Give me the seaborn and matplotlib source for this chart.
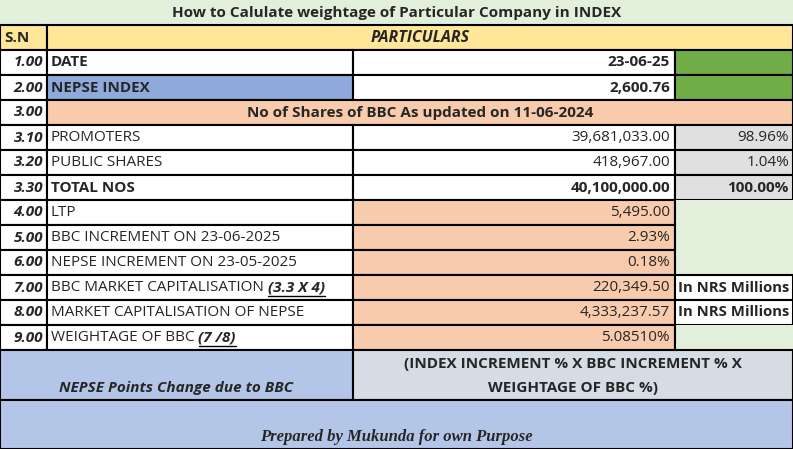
import matplotlib.pyplot as plt
import seaborn as sns
from matplotlib.patches import Rectangle

sns.set_style("white")
plt.rcParams['font.family'] = ['Open Sans', 'DejaVu Sans']

title = "How to Calulate weightage of Particular Company in INDEX"
sn = ["1.00", "2.00", "3.00", "3.10", "3.20", "3.30", "4.00", "5.00", "6.00", "7.00", "8.00", "9.00"]
labels = ["DATE", "NEPSE INDEX", "No of Shares of BBC As updated on 11-06-2024", "PROMOTERS",
          "PUBLIC SHARES", "TOTAL NOS", "LTP", "BBC INCREMENT ON 23-06-2025",
          "NEPSE INCREMENT ON 23-05-2025", "BBC MARKET CAPITALISATION ", "MARKET CAPITALISATION OF NEPSE",
          "WEIGHTAGE OF BBC "]
label_extra = ["", "", "", "", "", "", "", "", "", "(3.3 X 4)", "", "(7 /8)"]
values = ["23-06-25", "2,600.76", "", "39,681,033.00", "418,967.00", "40,100,000.00", "5,495.00",
          "2.93%", "0.18%", "220,349.50", "4,333,237.57", "5.08510%"]
extras = ["", "", "", "98.96%", "1.04%", "100.00%", "", "", "", "In NRS Millions", "In NRS Millions", ""]

WHITE, GREEN, BLUE, SALMON, GRAY, LGREEN, YELLOW, LBLUE, BGRAY = (
    "white", "#70ad47", "#8eaadb", "#f8cbad", "#e0e0e0", "#e2efda", "#ffe699", "#b4c6e7", "#d6dce4")
label_col = [WHITE, BLUE, SALMON] + [WHITE] * 9
value_col = [WHITE, WHITE, SALMON, WHITE, WHITE, WHITE] + [SALMON] * 6
extra_col = [GREEN, GREEN, SALMON, GRAY, GRAY, GRAY, LGREEN, LGREEN, LGREEN, WHITE, WHITE, LGREEN]
bold_lbl = [True, True, True, False, False, True, False, False, False, False, False, False]
bold_val = [True, True, True, False, False, True] + [False] * 6

W, H = 793, 449
fig = plt.figure(figsize=(W / 100, H / 100), dpi=100)
ax = fig.add_axes([0, 0, 1, 1])
ax.set_xlim(0, W)
ax.set_ylim(H, 0)
ax.axis("off")

x0, x1, x2, x3 = 0, 47, 353, 675
rh = 25
fs = 11


def cell(x, y, w, h, color, lw=1.5, edge="black"):
    ax.add_patch(Rectangle((x, y), w, h, facecolor=color, edgecolor=edge, linewidth=lw))


# title
ax.add_patch(Rectangle((0, 0), W, rh, facecolor=LGREEN, edgecolor="none"))
ax.text(W / 2 - 0, rh / 2 + 1, title, ha="center", va="center", fontsize=fs, fontweight="bold")
# header
cell(x0, rh, x1, rh, YELLOW)
cell(x1, rh, W - x1, rh, YELLOW)
ax.text(4, rh * 1.5, "S.N", ha="left", va="center", fontsize=fs, fontweight="bold")
ax.text((x1 + W) / 2, rh * 1.5, "PARTICULARS", ha="center", va="center", fontsize=fs + 0.5,
        fontweight="bold", style="italic")

for i in range(len(sn)):
    y = rh * (i + 2)
    yc = y + rh / 2
    cell(x0, y, x1, rh, WHITE)
    ax.text(x1 - 4, yc, sn[i], ha="right", va="center", fontsize=fs, fontweight="bold", style="italic")
    if i == 2:
        cell(x1, y, W - x1, rh, SALMON)
        ax.text((x1 + W) / 2, yc, labels[i], ha="center", va="center", fontsize=fs, fontweight="bold")
        continue
    cell(x1, y, x2 - x1, rh, label_col[i])
    cell(x2, y, x3 - x2, rh, value_col[i])
    if extra_col[i] == LGREEN:
        ax.add_patch(Rectangle((x3, y), W - x3, rh, facecolor=LGREEN, edgecolor="none"))
        ax.plot([x3, x3], [y, y + rh], color="black", lw=1.5)
    else:
        cell(x3, y, W - x3, rh, extra_col[i])
    t = ax.text(x1 + 4, yc, labels[i], ha="left", va="center", fontsize=fs,
                fontweight="bold" if bold_lbl[i] else "normal")
    if label_extra[i]:
        fig.canvas.draw()
        bb = t.get_window_extent().transformed(ax.transData.inverted())
        t2 = ax.text(bb.x1, yc, label_extra[i], ha="left", va="center", fontsize=fs,
                     fontweight="bold", style="italic")
        fig.canvas.draw()
        b2 = t2.get_window_extent().transformed(ax.transData.inverted())
        ax.plot([b2.x0, b2.x1], [yc + 8, yc + 8], color="black", lw=1)
    ax.text(x3 - 5, yc, values[i], ha="right", va="center", fontsize=fs,
            fontweight="bold" if bold_val[i] else "normal")
    if extras[i]:
        if extras[i].startswith("In"):
            ax.text(x3 + 3, yc, extras[i], ha="left", va="center", fontsize=fs - 0.3, fontweight="bold")
        else:
            ax.text(W - 4, yc, extras[i], ha="right", va="center", fontsize=fs,
                    fontweight="bold" if bold_val[i] else "normal")

# points change row
y = rh * 14
cell(x0, y, x2, 50, LBLUE)
cell(x2, y, W - x2, 50, BGRAY)
ax.text(x2 / 2, y + 38, "NEPSE Points Change due to BBC", ha="center", va="center", fontsize=fs,
        fontweight="bold", style="italic")
ax.text((x2 + W) / 2, y + 14, "(INDEX INCREMENT % X BBC INCREMENT % X", ha="center", va="center",
        fontsize=fs, fontweight="bold")
ax.text((x2 + W) / 2, y + 38, "WEIGHTAGE OF BBC %)", ha="center", va="center",
        fontsize=fs, fontweight="bold")

# footer
cell(0, 400, W, H - 400, LBLUE)
ax.text(W / 2, 437, "Prepared by Mukunda for own Purpose", ha="center", va="center", fontsize=12,
        fontweight="bold", style="italic", family=["Liberation Serif", "DejaVu Serif"])

fig.savefig("out.png", dpi=100)
